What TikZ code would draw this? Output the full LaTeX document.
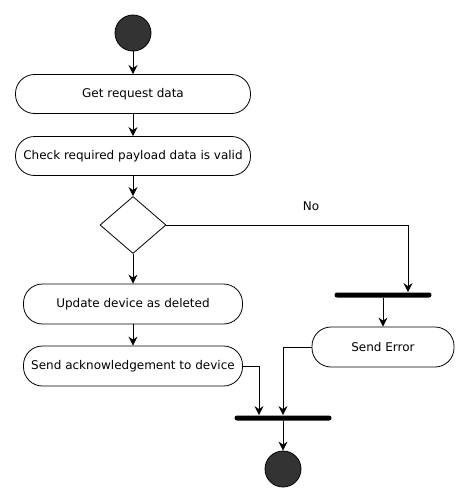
\documentclass[tikz,border=0pt]{standalone}
\usepackage{fontspec}
\setmainfont{DejaVu Sans}
\usetikzlibrary{shapes.geometric,arrows.meta}

\begin{document}
\begin{tikzpicture}[x=1pt,y=-1pt,line width=0.8pt,>={Stealth[length=9pt,width=9pt,inset=3pt]},
  act/.style={draw,rounded corners=19pt,minimum width=235pt,minimum height=39pt,font=\fontsize{12}{14}\selectfont},
  dot/.style={circle,draw,fill=black!80,minimum size=36pt,inner sep=0pt},
  bar/.style={fill=black,rounded corners=2.5pt,minimum width=97pt,minimum height=5pt,inner sep=0pt}]
\useasboundingbox (0,0) rectangle (470,503);
\node[dot] (start)at(133,33){};
\node[act] (get)at(133,94){Get request data};
\node[act] (check)at(133,156){Check required payload data is valid};
\node[draw,diamond,aspect=1.16,minimum width=66pt,minimum height=57pt,inner sep=0pt] (dec)at(133,225){};
\node[act,minimum width=219pt,minimum height=40pt] (upd)at(133,304){Update device as deleted};
\node[act,minimum width=219pt,minimum height=40pt] (ack)at(133,366){Send acknowledgement to device};
\node[bar] (bar1)at(383,295){};
\node[act,minimum width=142pt,minimum height=40pt] (err)at(383,347){Send Error};
\node[bar] (bar2)at(283,418){};
\node[dot] (stop)at(283,469){};
\draw[->] (start) -- (get);
\draw[->] (get) -- (check);
\draw[->] (check) -- (dec);
\draw[->] (dec) -- (upd);
\draw[->] (upd) -- (ack);
\draw[->] (dec.east) -| ([xshift=25pt]bar1.north);
\draw[->] (bar1) -- (err);
\draw[->] (ack.east) -| ([xshift=-24pt]bar2.north);
\draw[->] (err.west) -| (bar2.north);
\draw[->] (bar2) -- (stop);
\node[font=\fontsize{12}{14}\selectfont] (no)at(311,206){No};
\end{tikzpicture}
\end{document}
